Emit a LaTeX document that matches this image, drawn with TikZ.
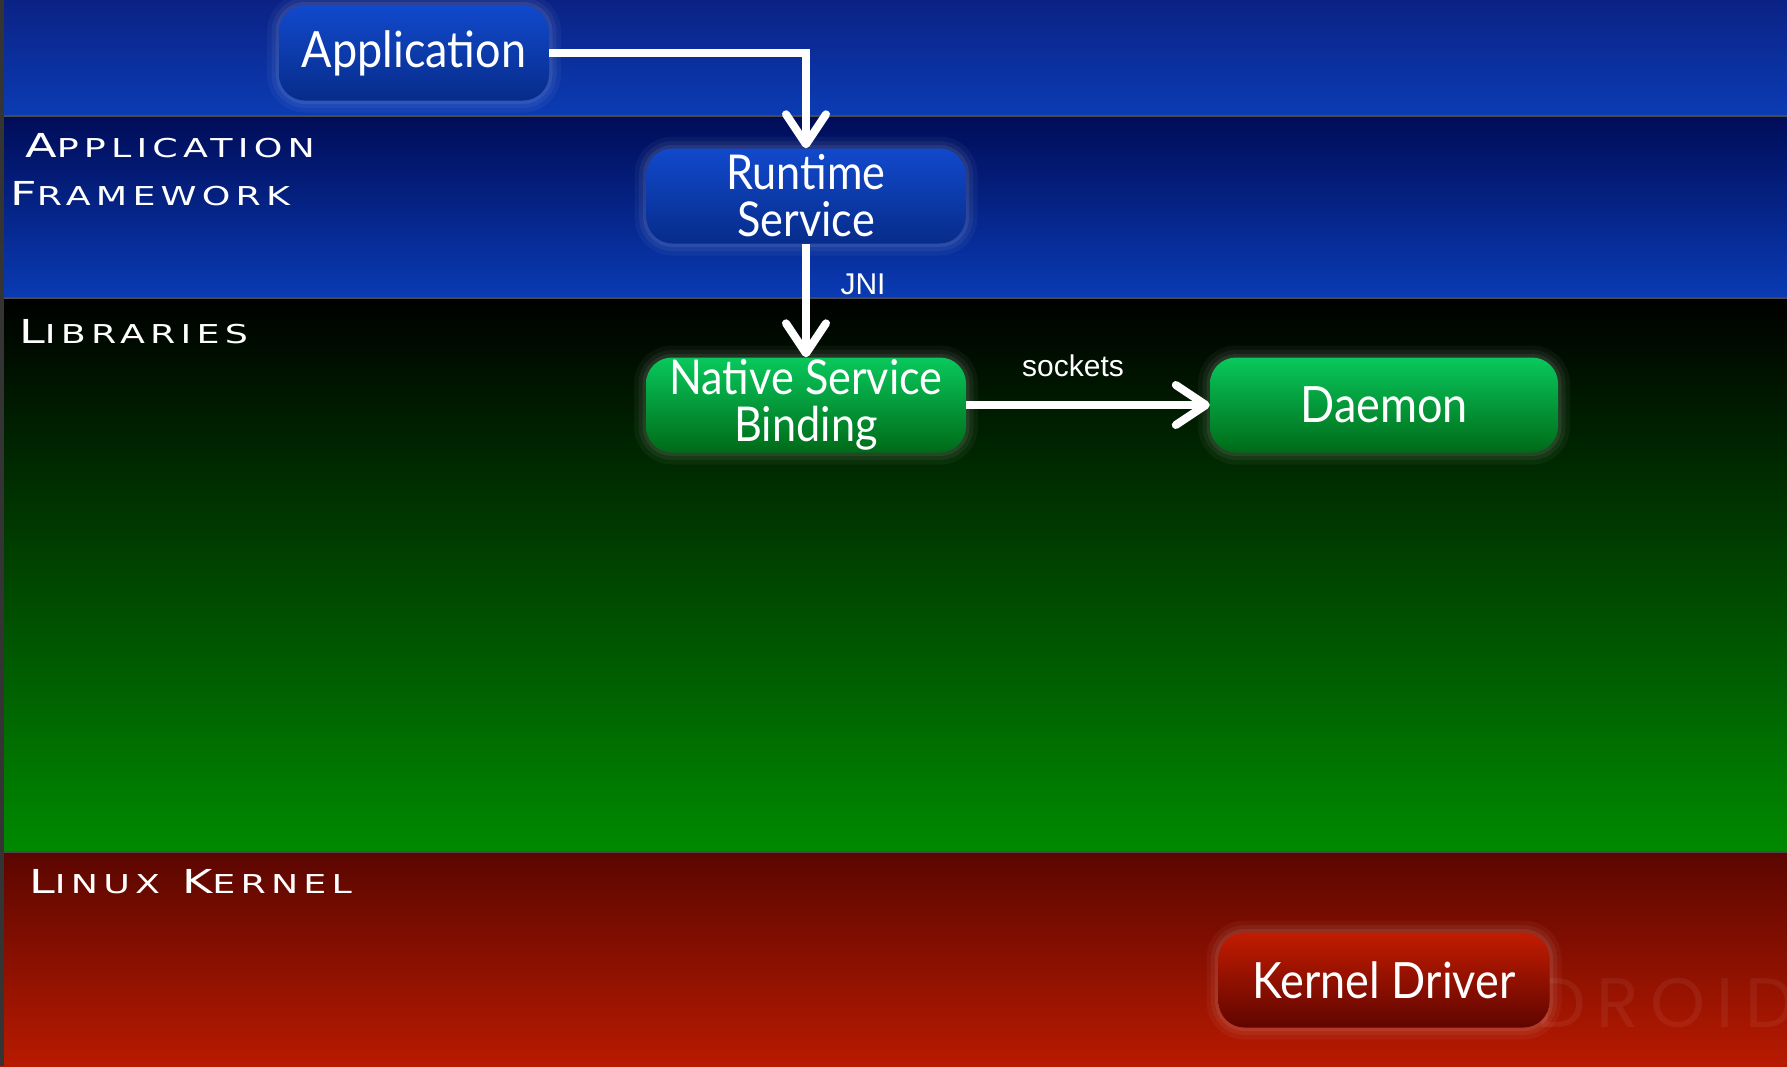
\documentclass[tikz,border=0pt]{standalone}
\usepackage{fontspec}
\setmainfont[FakeStretch=0.9]{Lato}
\newfontfamily\bandfont[FakeStretch=1.4,LetterSpace=20]{DejaVu Sans}
\newfontfamily\wirefont{Liberation Sans}
\newfontfamily\markfont[LetterSpace=16]{Poppins}
\usetikzlibrary{arrows.meta}
\definecolor{topblueA}{HTML}{0B2285}
\definecolor{topblueB}{HTML}{0B3CB4}
\definecolor{fwblueA}{HTML}{000C58}
\definecolor{fwblueB}{HTML}{0A3BB4}
\definecolor{libgreenB}{HTML}{008A00}
\definecolor{kernredA}{HTML}{5A0600}
\definecolor{kernredB}{HTML}{B81A00}
\definecolor{boxblueA}{HTML}{1149CC}
\definecolor{boxblueB}{HTML}{072C8A}
\definecolor{boxgreenA}{HTML}{08C85C}
\definecolor{boxgreenB}{HTML}{006A18}
\definecolor{boxredA}{HTML}{C21C00}
\definecolor{boxredB}{HTML}{600500}
\definecolor{sepgray}{HTML}{4A4A4A}
\newcommand{\bandsc}[2]{{\fontsize{33}{33}\selectfont #1}{\fontsize{26}{26}\selectfont #2}}
\begin{document}
\begin{tikzpicture}[x=1pt,y=-1pt,
  svc/.style={rounded corners=26pt, minimum height=95pt, inner sep=0pt, align=center,
    text=white, font=\fontsize{50}{45}\selectfont,
    preaction={draw=white, draw opacity=.04, line width=24pt},
    preaction={draw=white, draw opacity=.05, line width=15pt},
    preaction={draw=white, draw opacity=.07, line width=7pt}},
  two lines/.style={font=\fontsize{48}{47}\selectfont},
  blue svc/.style={svc, top color=boxblueA, bottom color=boxblueB},
  green svc/.style={svc, top color=boxgreenA, bottom color=boxgreenB},
  red svc/.style={svc, top color=boxredA, bottom color=boxredB},
  wire/.style={draw=white, line width=8pt, -{Straight Barb[length=30pt, width=40pt, round]}},
  wire label/.style={text=white, inner sep=0pt, font=\wirefont\fontsize{30}{30}\selectfont},
  band label/.style={anchor=base west, inner sep=0pt, text=white, font=\bandfont},
  sep line/.style={draw=sepgray, line width=2.5pt}
]
\useasboundingbox (0,0) rectangle (1787,1066);
\clip (0,0) rectangle (1787,1066);

\shade[top color=topblueA, bottom color=topblueB] (0,0) rectangle (1787,116);
\shade[top color=fwblueA, bottom color=fwblueB] (0,116) rectangle (1787,298);
\shade[top color=black, bottom color=libgreenB] (0,298) rectangle (1787,852);
\shade[top color=kernredA, bottom color=kernredB] (0,852) rectangle (1787,1066);
\draw[sep line] (0,116) -- (1787,116);
\draw[sep line] (0,298) -- (1787,298);
\draw[sep line] (0,852) -- (1787,852);
\fill[sepgray!70!black] (0,0) rectangle (4,1066);

\node[band label] (appfw1) at (25,157) {\bandsc{A}{PPLICATION}};
\node[band label] (appfw2) at (10,205) {\bandsc{F}{RAMEWORK}};
\node[band label] (libs) at (19,343) {\bandsc{L}{IBRARIES}};
\node[band label] (kernel) at (29,893) {\bandsc{L}{INUX}\hspace{22pt}\bandsc{K}{ERNEL}};

\node[anchor=west, inner sep=0pt, text=white, opacity=.06, font=\markfont\fontsize{70}{70}\selectfont] (droid) at (1536,1003) {DROID};

\node[blue svc, minimum width=270pt] (app) at (414,53) {Application};
\node[blue svc, two lines, minimum width=319pt] (runtime) at (806,196) {Runtime\\Service};
\node[green svc, two lines, minimum width=320pt] (native) at (806,405) {Native Service\\Binding};
\node[green svc, minimum width=348pt] (daemon) at (1384,405) {Daemon};
\node[red svc, minimum width=331pt] (kdriver) at (1384,980) {Kernel Driver};

\draw[wire] (app.east) -| (runtime.north);
\draw[wire] (runtime.south) -- (native.north);
\draw[wire] (native.east) -- (daemon.west);
\node[wire label] (jni) at (863,284) {JNI};
\node[wire label] (sockets) at (1073,366) {sockets};
\end{tikzpicture}
\end{document}
